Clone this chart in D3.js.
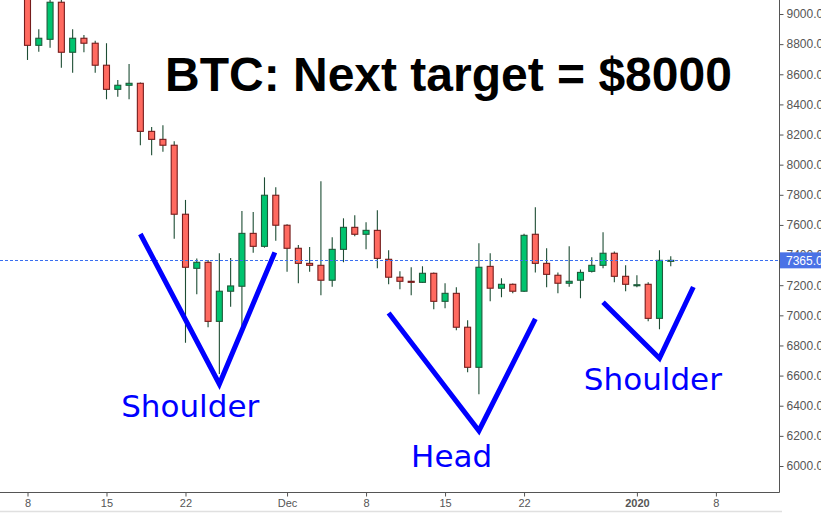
<!DOCTYPE html>
<html><head><meta charset="utf-8">
<script src="https://cdn.jsdelivr.net/npm/d3@7/dist/d3.min.js"></script>
<style>html,body{margin:0;padding:0;background:#fff;overflow:hidden}</style>
</head><body><svg id="c" width="821" height="519"></svg>
<script>
// ---- data ----
const dates = ["2019-11-08","2019-11-09","2019-11-10","2019-11-11","2019-11-12","2019-11-13","2019-11-14","2019-11-15","2019-11-16","2019-11-17",
"2019-11-18","2019-11-19","2019-11-20","2019-11-21","2019-11-22","2019-11-23","2019-11-24","2019-11-25","2019-11-26","2019-11-27",
"2019-11-28","2019-11-29","2019-11-30","2019-12-01","2019-12-02","2019-12-03","2019-12-04","2019-12-05","2019-12-06","2019-12-07",
"2019-12-08","2019-12-09","2019-12-10","2019-12-11","2019-12-12","2019-12-13","2019-12-14","2019-12-15","2019-12-16","2019-12-17",
"2019-12-18","2019-12-19","2019-12-20","2019-12-21","2019-12-22","2019-12-23","2019-12-24","2019-12-25","2019-12-26","2019-12-27",
"2019-12-28","2019-12-29","2019-12-30","2019-12-31","2020-01-01","2020-01-02","2020-01-03","2020-01-04"];
const opens  = [9230,8792,8832,9078,8746,8839,8806,8660,8500,8527, 8540,8221,8168,8129,7671,7312,7352,6960,7160,7193,
                7544,7458,7797,7598,7445,7345,7332,7233,7438,7584, 7538,7564,7372,7253,7226,7219,7279,7093,7146,6921,
                6655,7325,7180,7206,7160,7538,7345,7266,7213,7233, 7292,7332,7412,7259,7200,7206,6980,7360];
const highs  = [9260,8898,9130,9110,8898,8861,8823,8806,8562,8668, 8545,8250,8261,8155,7766,7378,7367,7412,7381,7693,
                7686,7916,7850,7605,7467,7454,7890,7518,7644,7664, 7617,7697,7432,7292,7319,7325,7285,7213,7186,6967,
                7478,7412,7246,7212,7542,7717,7445,7285,7458,7305, 7385,7551,7423,7332,7266,7219,7432,7392];
const lows   = [8695,8750,8776,8644,8610,8746,8610,8434,8451,8434, 8129,8062,8086,7509,6818,7140,6921,6610,7057,6881,
                7416,7449,7495,7290,7213,7290,7133,7190,7352,7525, 7438,7312,7206,7173,7133,7215,7040,7047,6901,6622,
                6476,7093,7120,7146,7155,7285,7186,7146,7190,7113, 7285,7312,7219,7160,7186,6960,6907,7325];
const closes = [8792,8839,9078,8746,8839,8806,8660,8500,8527,8540, 8221,8168,8129,7671,7319,7352,6960,7160,7195,7544,
                7458,7797,7598,7445,7345,7332,7233,7438,7584,7538, 7564,7378,7253,7226,7219,7279,7093,7146,6921,6655,
                7319,7180,7206,7160,7531,7345,7272,7213,7226,7285, 7332,7412,7259,7206,7203,6980,7365,7365];
const lastPrice = 7365;
const yTicks = [6000,6200,6400,6600,6800,7000,7200,7400,7600,7800,8000,8200,8400,8600,8800,9000];
const xTickDates = ["2019-11-08","2019-11-15","2019-11-22","2019-12-01","2019-12-08","2019-12-15","2019-12-22","2020-01-01","2020-01-08"];
const xTickLabels = ["8","15","22","Dec","8","15","22","2020","8"];
const titleText = "BTC: Next target = $8000";
const patternNames = ["Shoulder","Head","Shoulder"];
const patternLines = [
  [["2019-11-18T00:00",7540],["2019-11-25T00:00",6544],["2019-11-29T22:00",7418]],
  [["2019-12-10T00:00",7015],["2019-12-18T00:00",6234],["2019-12-23T00:00",6976]],
  [["2019-12-29T00:00",7087],["2020-01-03T00:00",6715],["2020-01-06T00:00",7188]]
];
const patternLabelAt = [["2019-11-22T10:00",6325],["2019-12-15T14:00",5993],["2020-01-02T10:00",6504]];

// ---- drawing ----
const parse = s => new Date(s.length === 10 ? s + "T00:00:00Z" : s + ":00Z");
const svg = d3.select("#c");
const W = 821, H = 519, axisX = 779.5, axisY = 492.5;
const x = d3.scaleUtc().domain([parse("2019-11-08"), parse("2020-01-08")]).range([27.5, 715.9]);
const y = d3.scaleLinear().domain([6000, 9000]).range([466, 14]);

svg.append("rect").attr("width", W).attr("height", H).attr("fill", "#fff");
svg.append("defs").append("clipPath").attr("id", "plot")
  .append("rect").attr("x", 0).attr("y", 0).attr("width", axisX).attr("height", axisY);

const candles = dates.map((d, i) => ({d: parse(d), o: opens[i], h: highs[i], l: lows[i], c: closes[i]}));
const plot = svg.append("g").attr("clip-path", "url(#plot)");

// last price dashed line
svg.append("line").attr("x1", 0).attr("x2", W).attr("y1", Math.round(y(lastPrice)) + 0.5).attr("y2", Math.round(y(lastPrice)) + 0.5)
  .attr("stroke", "#3a6ff0").attr("stroke-width", 1).attr("stroke-dasharray", "3,2");

const bw = 6;
plot.selectAll("line.wick").data(candles).join("line").attr("class", "wick")
  .attr("x1", d => x(d.d)).attr("x2", d => x(d.d))
  .attr("y1", d => y(d.h)).attr("y2", d => y(d.l))
  .attr("stroke", "#1d4d34").attr("stroke-width", 1.1);
plot.selectAll("rect.body").data(candles).join("rect").attr("class", "body")
  .attr("x", d => x(d.d) - bw / 2)
  .attr("y", d => y(Math.max(d.o, d.c)))
  .attr("width", bw)
  .attr("height", d => Math.max(1, Math.abs(y(d.o) - y(d.c))))
  .attr("fill", d => d.c >= d.o ? "#00c46f" : "#ff6a60")
  .attr("stroke", d => d.c >= d.o ? "#1e5a3a" : "#761c1c")
  .attr("stroke-width", 1.1);

// axes
const ya = svg.append("g").attr("transform", `translate(${axisX},0)`)
  .call(d3.axisRight(y).tickValues(yTicks).tickFormat(d3.format(".2f")).tickSize(4).tickPadding(3));
ya.select(".domain").attr("d", `M0,0V${axisY}`).attr("stroke", "#555");
ya.selectAll(".tick line").attr("stroke", "#555");
ya.selectAll(".tick text").attr("fill", "#555").style("font", "12px 'Liberation Sans', Arial, sans-serif");

const xa = svg.append("g").attr("transform", `translate(0,${axisY})`)
  .call(d3.axisBottom(x).tickValues(xTickDates.map(parse)).tickFormat((d, i) => xTickLabels[i]).tickSize(4).tickPadding(3));
xa.select(".domain").attr("d", `M0,0H${axisX}`).attr("stroke", "#555");
xa.selectAll(".tick line").attr("stroke", "#555");
xa.selectAll(".tick text").attr("fill", "#555").style("font", "11px 'Liberation Sans', Arial, sans-serif")
  .style("font-weight", (d, i) => xTickLabels[i] === "2020" ? "bold" : "normal");

svg.append("line").attr("x1", 0).attr("x2", 782).attr("y1", 511.5).attr("y2", 511.5).attr("stroke", "#e0e0e0").attr("stroke-width", 1.5);

// last price label
const ly = y(lastPrice);
svg.append("rect").attr("x", 780).attr("y", ly - 8).attr("width", 41).attr("height", 16).attr("fill", "#4a72e6");
svg.append("text").attr("x", 786).attr("y", ly + 4.5).attr("fill", "#fff")
  .style("font", "12px 'Liberation Sans', Arial, sans-serif").text(d3.format(".2f")(lastPrice));

// title
svg.append("text").attr("x", 165).attr("y", 91).attr("fill", "#000")
  .style("font", "bold 48px 'Liberation Sans', Arial, sans-serif").text(titleText);

// pattern annotations
const lineGen = d3.line().x(p => x(parse(p[0]))).y(p => y(p[1]));
svg.selectAll("path.pat").data(patternLines).join("path").attr("class", "pat")
  .attr("d", lineGen).attr("fill", "none").attr("stroke", "#0000ff").attr("stroke-width", 5)
  .attr("stroke-linejoin", "miter").attr("stroke-miterlimit", 10);
svg.selectAll("text.pl").data(patternNames).join("text").attr("class", "pl")
  .attr("x", (d, i) => x(parse(patternLabelAt[i][0])))
  .attr("y", (d, i) => y(patternLabelAt[i][1]))
  .attr("text-anchor", "middle").attr("fill", "#0000ff")
  .style("font", "31px 'DejaVu Sans', Verdana, sans-serif").text(d => d);
</script></body></html>
